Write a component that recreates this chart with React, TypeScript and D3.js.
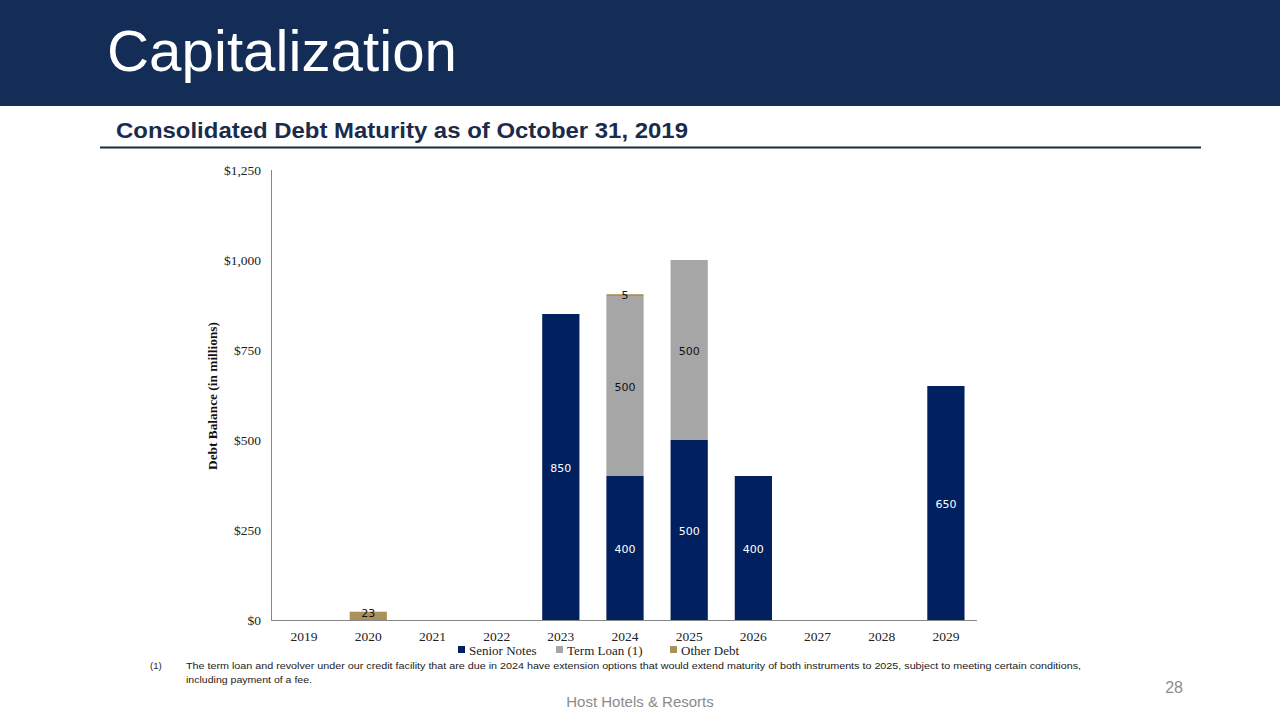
import React from "react";
import * as d3 from "d3";

const years = ["2019","2020","2021","2022","2023","2024","2025","2026","2027","2028","2029"];
const seniorNotes = [0,0,0,0,850,400,500,400,0,0,650];
const termLoan = [0,0,0,0,0,500,500,0,0,0,0];
const otherDebt = [0,23,0,0,0,5,0,0,0,0,0];
const yTicks = [0,250,500,750,1000,1250];
const seriesNames = ["Senior Notes","Term Loan (1)","Other Debt"];
const seriesColors = ["#002060","#A6A6A6","#A8925A"];
const labelColors = ["#FFFFFF","#111111","#111111"];

export default function App() {
  const W = 1280, H = 720;
  const x = d3.scaleBand().domain(years).range([272, 978]).paddingInner(0.42).paddingOuter(0.21);
  const y = d3.scaleLinear().domain([0, 1250]).range([620, 170]);
  const rows = years.map((yr, i) => ({ year: yr, s0: seniorNotes[i], s1: termLoan[i], s2: otherDebt[i] }));
  const stack = d3.stack<any>().keys(["s0","s1","s2"])(rows);
  const fmt = (v: number) => "$" + d3.format(",")(v);
  const serif = "'Liberation Serif','Times New Roman',serif";
  const sans = "'Liberation Sans',Arial,sans-serif";
  const lblFont = "'DejaVu Sans',Verdana,sans-serif";
  const legendItems = [
    { x: 458, name: seriesNames[0], c: seriesColors[0] },
    { x: 556, name: seriesNames[1], c: seriesColors[1] },
    { x: 670, name: seriesNames[2], c: seriesColors[2] },
  ];
  return (
    <svg width={W} height={H} style={{ position: "absolute", left: 0, top: 0, background: "#fff" }}>
      <rect x={0} y={0} width={W} height={106} fill="#132D56" />
      <text x={107} y={71} fill="#fff" fontFamily={sans} fontSize={58} textLength={350} lengthAdjust="spacingAndGlyphs">Capitalization</text>
      <text x={116} y={138} fill="#1B2B4B" fontFamily={sans} fontSize={22.5} fontWeight="bold" textLength={572} lengthAdjust="spacingAndGlyphs">Consolidated Debt Maturity as of October 31, 2019</text>
      <line x1={100} x2={1201} y1={147.5} y2={147.5} stroke="#1B2B3B" strokeWidth={2} />

      {yTicks.map(t => (
        <text key={t} x={261} y={y(t) + 4.5} textAnchor="end" fontFamily={serif} fontSize={13.5} fill="#222">{fmt(t)}</text>
      ))}
      <text transform={`translate(217,396) rotate(-90)`} textAnchor="middle" fontFamily={serif} fontSize={13} fontWeight="bold" fill="#111" textLength={148} lengthAdjust="spacingAndGlyphs">Debt Balance (in millions)</text>

      {stack.map((layer, si) => (
        <g key={si}>
          {layer.map((d, i) => {
            const v = d[1] - d[0];
            if (v <= 0) return null;
            const bx = x(years[i])!;
            return <rect key={i} x={bx} y={y(d[1])} width={x.bandwidth()} height={y(d[0]) - y(d[1])} fill={seriesColors[si]} />;
          })}
        </g>
      ))}
      {stack.map((layer, si) => (
        <g key={"l" + si}>
          {layer.map((d, i) => {
            const v = d[1] - d[0];
            if (v <= 0) return null;
            const cx = x(years[i])! + x.bandwidth() / 2;
            const cy = v < 40 ? y(d[1]) + 5 : y((d[0] + d[1]) / 2) + 5;
            return <text key={i} x={cx} y={cy} textAnchor="middle" fontFamily={lblFont} fontSize={11} fill={labelColors[si]}>{v}</text>;
          })}
        </g>
      ))}

      <line x1={271.5} x2={271.5} y1={170} y2={620} stroke="#888" strokeWidth={1} />
      <line x1={271} x2={977} y1={620.5} y2={620.5} stroke="#888" strokeWidth={1} />

      {years.map(yr => (
        <text key={yr} x={x(yr)! + x.bandwidth() / 2} y={641} textAnchor="middle" fontFamily={serif} fontSize={13.5} fill="#222">{yr}</text>
      ))}

      {legendItems.map(li => (
        <g key={li.name}>
          <rect x={li.x} y={646} width={7} height={7} fill={li.c} />
          <text x={li.x + 11} y={655} fontFamily={serif} fontSize={13} fill="#222">{li.name}</text>
        </g>
      ))}

      <text x={150} y={669} fontFamily={sans} fontSize={9.5} fill="#222">(1)</text>
      <text x={186} y={669} fontFamily={sans} fontSize={9.5} fill="#222" textLength={895} lengthAdjust="spacingAndGlyphs">The term loan and revolver under our credit facility that are due in 2024 have extension options that would extend maturity of both instruments to 2025, subject to meeting  certain conditions,</text>
      <text x={186} y={683} fontFamily={sans} fontSize={9.5} fill="#222" textLength={126} lengthAdjust="spacingAndGlyphs">including payment of a fee.</text>

      <text x={640} y={707} textAnchor="middle" fontFamily={sans} fontSize={15} fill="#8C8C8C">Host Hotels &amp; Resorts</text>
      <text x={1183} y={693} textAnchor="end" fontFamily={sans} fontSize={16} fill="#8C8C8C">28</text>
    </svg>
  );
}
